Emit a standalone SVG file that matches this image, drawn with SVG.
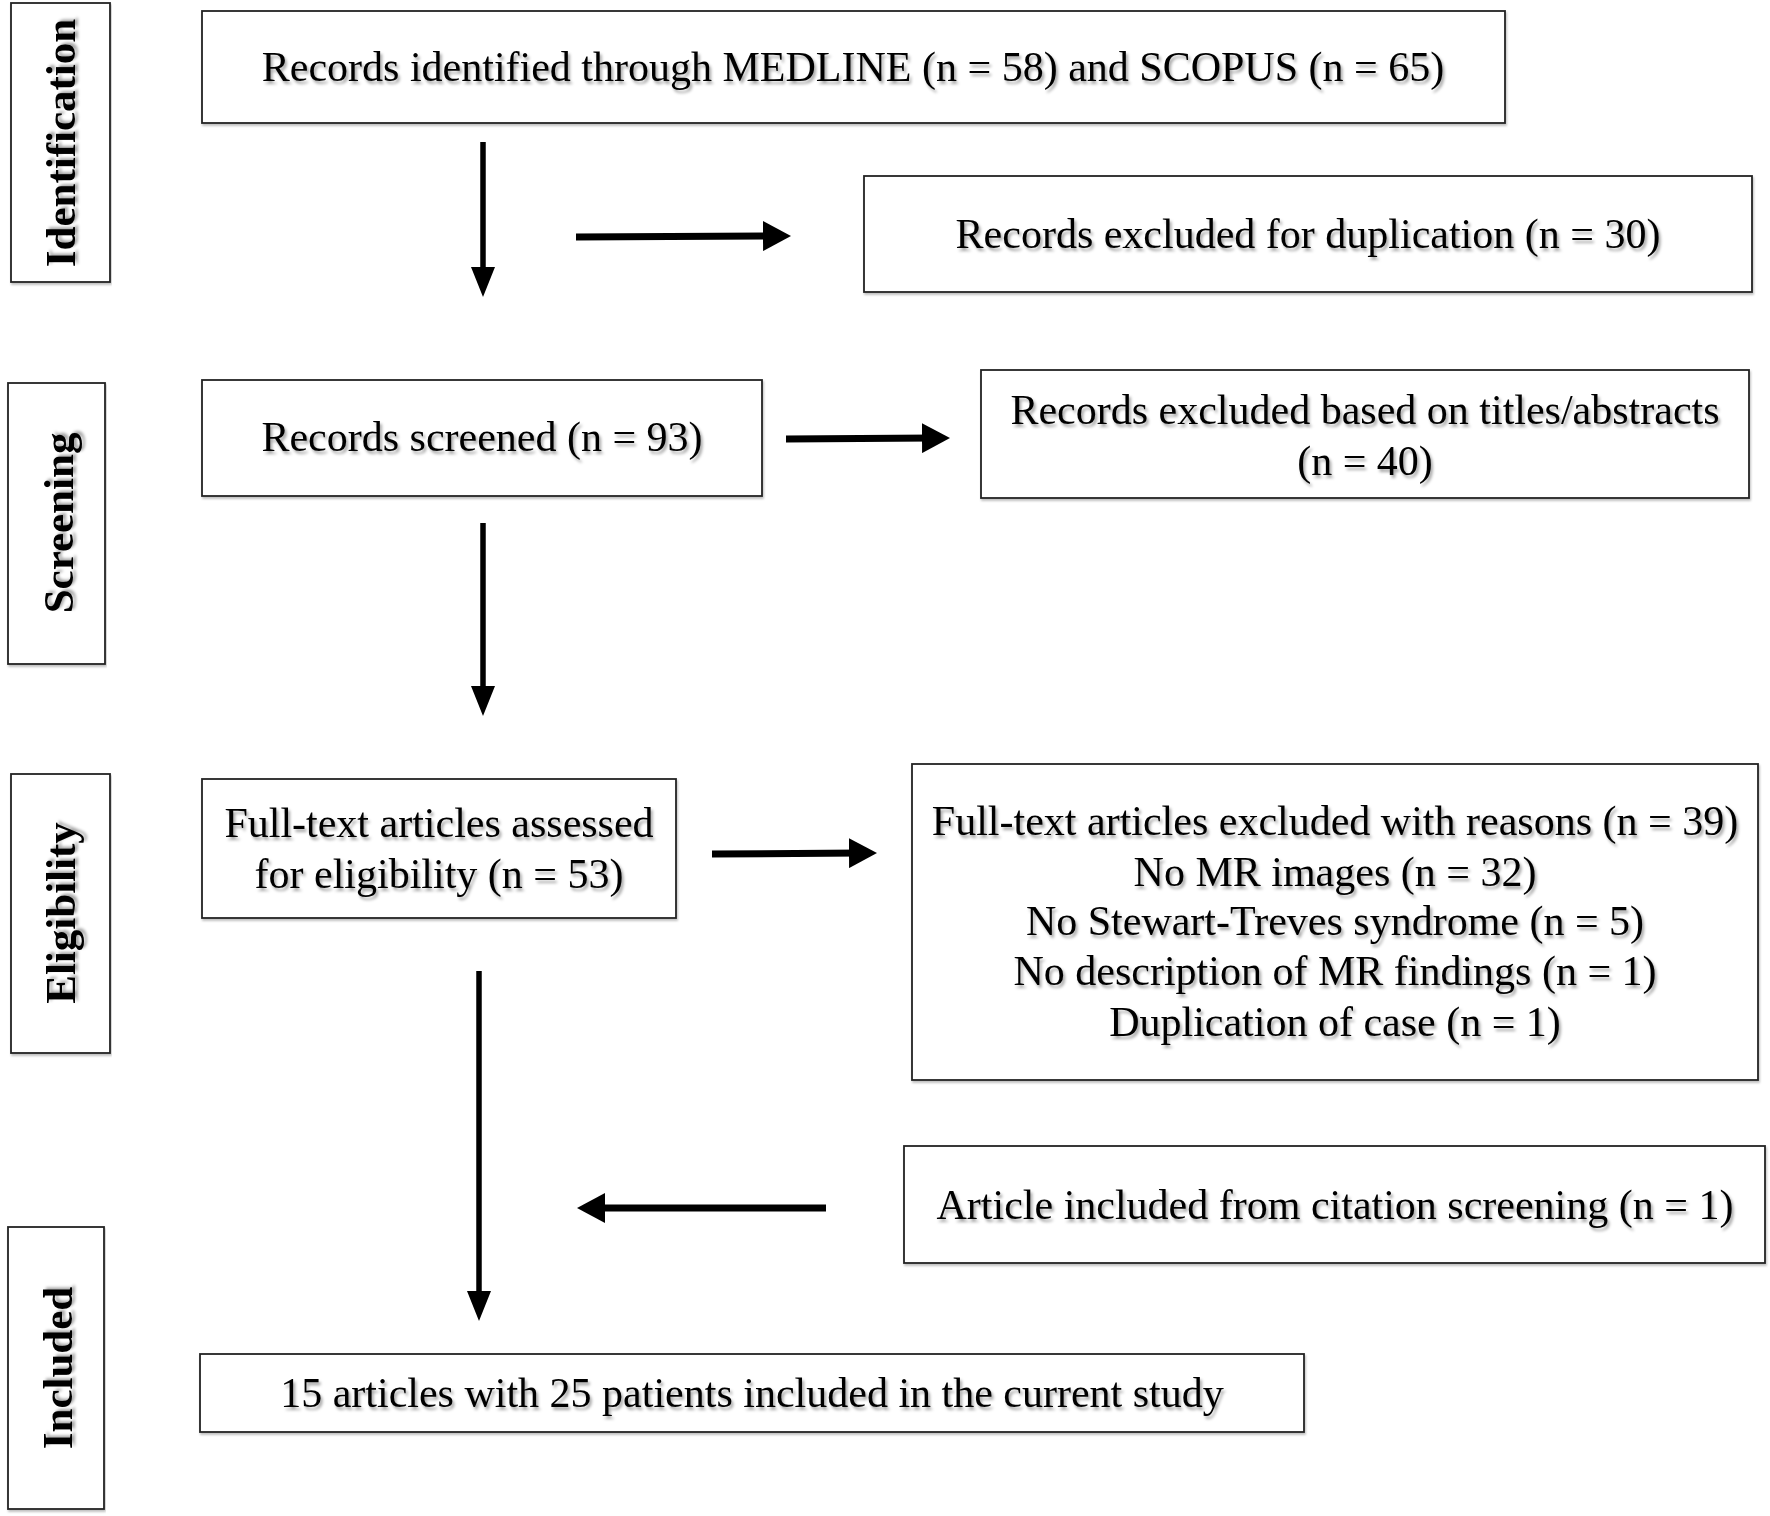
<svg xmlns="http://www.w3.org/2000/svg" width="1770" height="1516" viewBox="0 0 1770 1516">
<style>
.box{fill:#fff;stroke:#222;stroke-width:1.8}
.t{font-family:"Liberation Serif","Times New Roman",serif;font-size:42px;fill:#000;text-anchor:middle}
.lbl{font-family:"Liberation Serif","Times New Roman",serif;font-size:43px;font-weight:bold;fill:#000;text-anchor:middle;dominant-baseline:central}
.v{stroke:#000;stroke-width:5.5;fill:none}
.h{stroke:#000;stroke-width:7;fill:none}
</style>
<defs>
<filter id="ts" x="-5%" y="-20%" width="110%" height="150%">
<feDropShadow dx="2" dy="3" stdDeviation="1.5" flood-color="#000" flood-opacity="0.35"/>
</filter>
<filter id="bs" x="-2%" y="-5%" width="104%" height="115%">
<feDropShadow dx="1" dy="2" stdDeviation="1.2" flood-color="#000" flood-opacity="0.25"/>
</filter>
<marker id="av" markerUnits="userSpaceOnUse" markerWidth="30" markerHeight="24" refX="14" refY="12" orient="auto" viewBox="0 0 30 24">
<path d="M0,0 L30,12 L0,24 Z" fill="#000"/>
</marker>
<marker id="ah" markerUnits="userSpaceOnUse" markerWidth="28" markerHeight="30" refX="12" refY="15" orient="auto" viewBox="0 0 28 30">
<path d="M0,0 L28,15 L0,30 Z" fill="#000"/>
</marker>
</defs>
<rect width="1770" height="1516" fill="#fff"/>

<g id="stage-identification">
<rect class="box" x="11" y="3" width="99" height="279" filter="url(#bs)"/>
<text class="lbl" transform="translate(60,143) rotate(-90)" filter="url(#ts)">Identification</text>
</g>
<g id="stage-screening">
<rect class="box" x="8" y="383" width="97" height="281" filter="url(#bs)"/>
<text class="lbl" transform="translate(58,523) rotate(-90)" filter="url(#ts)">Screening</text>
</g>
<g id="stage-eligibility">
<rect class="box" x="11" y="774" width="99" height="279" filter="url(#bs)"/>
<text class="lbl" transform="translate(60,913) rotate(-90)" filter="url(#ts)">Eligibility</text>
</g>
<g id="stage-included">
<rect class="box" x="8" y="1227" width="96" height="282" filter="url(#bs)"/>
<text class="lbl" transform="translate(57,1368) rotate(-90)" filter="url(#ts)">Included</text>
</g>

<g id="node-identified">
<rect class="box" x="202" y="11" width="1303" height="112" filter="url(#bs)"/>
<text class="t" x="853" y="81" filter="url(#ts)">Records identified through MEDLINE (n = 58) and SCOPUS (n = 65)</text>
</g>
<g id="node-duplicates">
<rect class="box" x="864" y="176" width="888" height="116" filter="url(#bs)"/>
<text class="t" x="1308" y="248" filter="url(#ts)">Records excluded for duplication (n = 30)</text>
</g>
<g id="node-screened">
<rect class="box" x="202" y="380" width="560" height="116" filter="url(#bs)"/>
<text class="t" x="482" y="451" filter="url(#ts)">Records screened (n = 93)</text>
</g>
<g id="node-excluded-titles">
<rect class="box" x="981" y="370" width="768" height="128" filter="url(#bs)"/>
<text class="t" x="1365" y="424" filter="url(#ts)">Records excluded based on titles/abstracts</text>
<text class="t" x="1365" y="475" filter="url(#ts)">(n = 40)</text>
</g>
<g id="node-fulltext">
<rect class="box" x="202" y="779" width="474" height="139" filter="url(#bs)"/>
<text class="t" x="439" y="837" filter="url(#ts)">Full-text articles assessed</text>
<text class="t" x="439" y="888" filter="url(#ts)">for eligibility (n = 53)</text>
</g>
<g id="node-excluded-fulltext">
<rect class="box" x="912" y="764" width="846" height="316" filter="url(#bs)"/>
<text class="t" x="1335" y="835" filter="url(#ts)">Full-text articles excluded with reasons (n = 39)</text>
<text class="t" x="1335" y="886" filter="url(#ts)">No MR images (n = 32)</text>
<text class="t" x="1335" y="935" filter="url(#ts)">No Stewart-Treves syndrome (n = 5)</text>
<text class="t" x="1335" y="985" filter="url(#ts)">No description of MR findings (n = 1)</text>
<text class="t" x="1335" y="1036" filter="url(#ts)">Duplication of case (n = 1)</text>
</g>
<g id="node-citation">
<rect class="box" x="904" y="1146" width="861" height="117" filter="url(#bs)"/>
<text class="t" x="1335" y="1219" filter="url(#ts)">Article included from citation screening (n = 1)</text>
</g>
<g id="node-included">
<rect class="box" x="200" y="1354" width="1104" height="78" filter="url(#bs)"/>
<text class="t" x="752" y="1407" filter="url(#ts)">15 articles with 25 patients included in the current study</text>
</g>

<g id="connectors">
<line class="v" x1="483" y1="142" x2="483" y2="281" marker-end="url(#av)"/>
<line class="h" x1="576" y1="237" x2="775" y2="236" marker-end="url(#ah)"/>
<line class="v" x1="483" y1="523" x2="483" y2="700" marker-end="url(#av)"/>
<line class="h" x1="786" y1="439" x2="934" y2="438" marker-end="url(#ah)"/>
<line class="h" x1="712" y1="854" x2="861" y2="853" marker-end="url(#ah)"/>
<line class="v" x1="479" y1="971" x2="479" y2="1305" marker-end="url(#av)"/>
<line class="h" x1="826" y1="1208" x2="593" y2="1208" marker-end="url(#ah)"/>
</g>
</svg>
